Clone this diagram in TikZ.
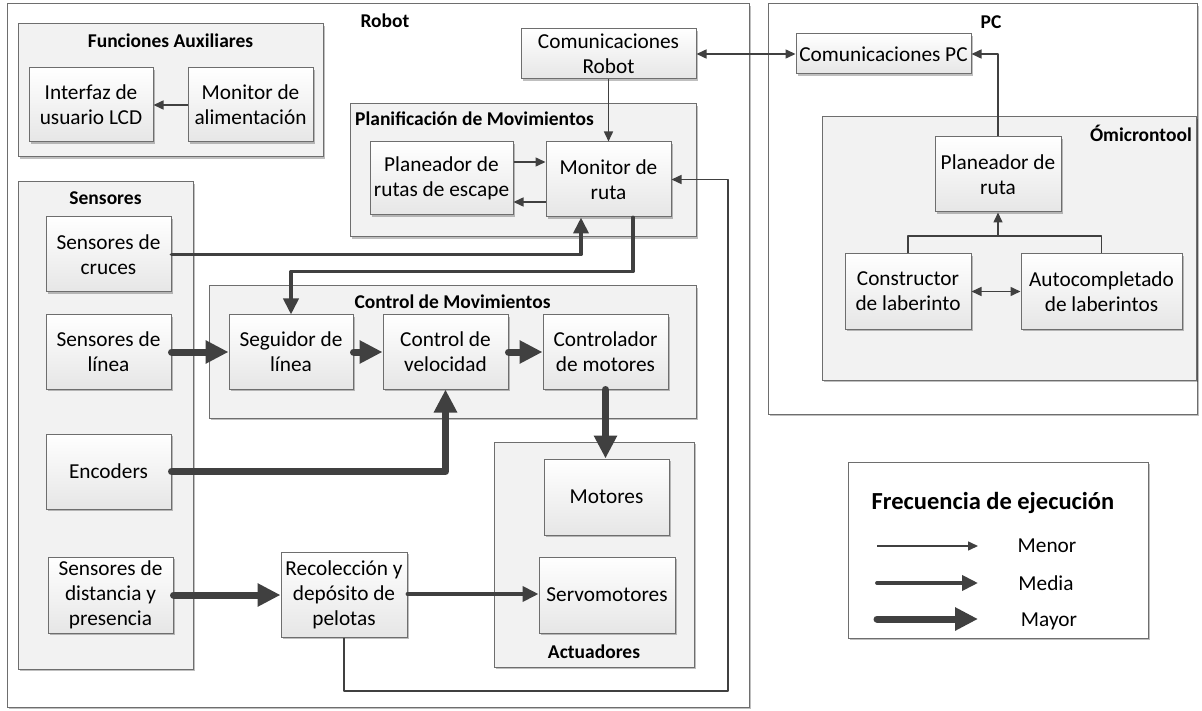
\documentclass[tikz,border=0pt]{standalone}
\usepackage{fontspec}
\setmainfont{Carlito}
\usetikzlibrary{arrows.meta,shadows}
\definecolor{linecol}{HTML}{404040}
\definecolor{bordercol}{HTML}{6E6E6E}
\definecolor{grpfill}{HTML}{F2F2F2}
\definecolor{boxbot}{HTML}{E6E6E6}
\tikzset{
  shd/.style={drop shadow={shadow xshift=1.8pt,shadow yshift=-1.8pt,fill=black,opacity=0.25}},
  outerbox/.style={draw=bordercol,line width=1pt,fill=white,shd,inner sep=0pt},
  grp/.style={draw=bordercol,line width=1pt,fill=grpfill,shd,inner sep=0pt},
  box/.style={draw=bordercol,line width=1pt,top color=white,bottom color=boxbot,shd,
    align=center,inner sep=1pt,font=\fontsize{21.3}{25}\selectfont},
  ttl/.style={font=\bfseries\fontsize{19.5}{23}\selectfont,inner sep=0pt},
  lbl/.style={font=\fontsize{21.3}{25}\selectfont,inner sep=0pt},
  lnthin/.style={draw=linecol,line width=1.5pt,line join=round,-{Triangle[length=10pt,width=9pt]}},
  lnboth/.style={draw=linecol,line width=1.5pt,{Triangle[length=10pt,width=9pt]}-{Triangle[length=10pt,width=9pt]}},
  lnplain/.style={draw=linecol,line width=1.5pt,line join=round},
  lnmed/.style={draw=linecol,line width=3.8pt,line cap=round,line join=round,-{Triangle[length=16pt,width=15pt]}},
  lnthick/.style={draw=linecol,line width=7pt,line cap=round,line join=round,-{Triangle[length=23pt,width=22pt]}},
}
\begin{document}
\begin{tikzpicture}[x=1pt,y=-1pt]
\useasboundingbox (0,0) rectangle (1202,711);
% outer frames
\node[outerbox,minimum width=742,minimum height=703] (robot) at (378,355.5) {};
\node[outerbox,minimum width=429,minimum height=410] (pc) at (982.5,209) {};
\node[ttl] (robottitle) at (385,21) {Robot};
\node[ttl] (pctitle) at (991,22) {PC};
% containers
\node[grp,minimum width=305,minimum height=133] (funcs) at (170.5,90.5) {};
\node[ttl] (funcstitle) at (170.5,41) {Funciones Auxiliares};
\node[grp,minimum width=175,minimum height=487] (sens) at (105.5,425.5) {};
\node[ttl] (senstitle) at (105.5,198) {Sensores};
\node[grp,minimum width=346,minimum height=133] (planif) at (523,170.5) {};
\node[ttl,anchor=west] (planiftitle) at (355,119) {Planificación de Movimientos};
\node[grp,minimum width=487,minimum height=132] (control) at (452.5,352) {};
\node[ttl] (controltitle) at (452.5,302) {Control de Movimientos};
\node[grp,minimum width=200,minimum height=225] (actu) at (594,554.5) {};
\node[ttl] (actutitle) at (594,652) {Actuadores};
\node[grp,minimum width=374,minimum height=263] (omi) at (1009,248.5) {};
\node[ttl,anchor=east] (omititle) at (1192,133) {Ómicrontool};
% boxes
\node[box,minimum width=124,minimum height=74] (lcd) at (91,105) {Interfaz de\\usuario LCD};
\node[box,minimum width=125,minimum height=74] (alim) at (250.5,105) {Monitor de\\alimentación};
\node[box,minimum width=125,minimum height=75] (cruces) at (108.5,254.5) {Sensores de\\cruces};
\node[box,minimum width=125,minimum height=74] (linea) at (108.5,352) {Sensores de\\línea};
\node[box,minimum width=125,minimum height=75] (enc) at (108.5,471.5) {Encoders};
\node[box,minimum width=125,minimum height=76] (dist) at (110.5,595) {Sensores de\\distancia y\\presencia};
\node[box,minimum width=175,minimum height=50] (comrobot) at (608.5,54) {Comunicaciones\\Robot};
\node[box,minimum width=143,minimum height=73] (escape) at (441.5,178.5) {Planeador de\\rutas de escape};
\node[box,minimum width=125,minimum height=75] (monitor) at (608.5,179.5) {Monitor de\\ruta};
\node[box,minimum width=124,minimum height=74] (seg) at (291,352) {Seguidor de\\línea};
\node[box,minimum width=125,minimum height=74] (vel) at (445.5,352) {Control de\\velocidad};
\node[box,minimum width=125,minimum height=74] (ctrl) at (605.5,352) {Controlador\\de motores};
\node[box,minimum width=125,minimum height=76] (mot) at (606.5,497) {Motores};
\node[box,minimum width=136,minimum height=76] (servo) at (607,595) {Servomotores};
\node[box,minimum width=126,minimum height=85] (recol) at (344,594.5) {Recolección y\\depósito de\\pelotas};
\node[box,minimum width=175,minimum height=40] (compc) at (883.5,54) {Comunicaciones PC};
\node[box,minimum width=126,minimum height=75] (planruta) at (998,174.5) {Planeador de\\ruta};
\node[box,minimum width=126,minimum height=75] (constr) at (908,291.5) {Constructor\\de laberinto};
\node[box,minimum width=161,minimum height=75] (autoc) at (1101.5,291.5) {Autocompletado\\de laberintos};
% legend
\node[outerbox,minimum width=300,minimum height=176] (legend) at (998,550) {};
\node[font=\bfseries\fontsize{24.5}{28}\selectfont,inner sep=0pt] (legtitle) at (993,503) {Frecuencia de ejecución};
\node[lbl] (lmenor) at (1047,546) {Menor};
\node[lbl] (lmedia) at (1046,583) {Media};
\node[lbl] (lmayor) at (1049,621) {Mayor};
\coordinate (a1) at (877,546); \coordinate (a2) at (978,546);
\coordinate (b1) at (877,583); \coordinate (b2) at (978,583);
\coordinate (c1) at (877,619); \coordinate (c2) at (978,619);
\draw[lnthin] (a1) -- (a2);
\draw[lnmed] (b1) -- (b2);
\draw[lnthick] (c1) -- (c2);
% thin connectors
\draw[lnthin] (alim.west) -- (lcd.east);
\draw[lnboth] (comrobot.east) -- (compc.west);
\draw[lnthin] (comrobot.south) -- (monitor.north);
\draw[lnthin] (escape.east |- 0,162) -- (monitor.west |- 0,162);
\draw[lnthin] (monitor.west |- 0,202) -- (escape.east |- 0,202);
\coordinate (r1) at (728,691);
\draw[lnthin] (recol.south) |- (r1) |- (monitor.east);
\draw[lnthin] (planruta.north) |- (compc.east);
\coordinate (j) at (998,236);
\draw[lnplain] (constr.north) |- (autoc.north |- j) -- (autoc.north);
\draw[lnthin] (j) -- (planruta.south);
\draw[lnboth] (constr.east) -- (autoc.west);
% medium connectors
\draw[lnmed] (cruces.east) -| ([xshift=-27.5pt]monitor.south);
\draw[lnmed] ([xshift=24.5pt]monitor.south) -- ++(0,54) -| (seg.north);
\draw[lnmed] (recol.east |- 0,594) -- (servo.west |- 0,594);
% thick connectors
\draw[lnthick] (linea.east) -- (seg.west);
\draw[lnthick] (seg.east) -- (vel.west);
\draw[lnthick] (vel.east) -- (ctrl.west);
\draw[lnthick] (ctrl.south) -- (ctrl.south |- mot.north);
\draw[lnthick] (enc.east) -| (vel.south);
\draw[lnthick] (dist.east) -- (recol.west |- dist.east);
\end{tikzpicture}
\end{document}
